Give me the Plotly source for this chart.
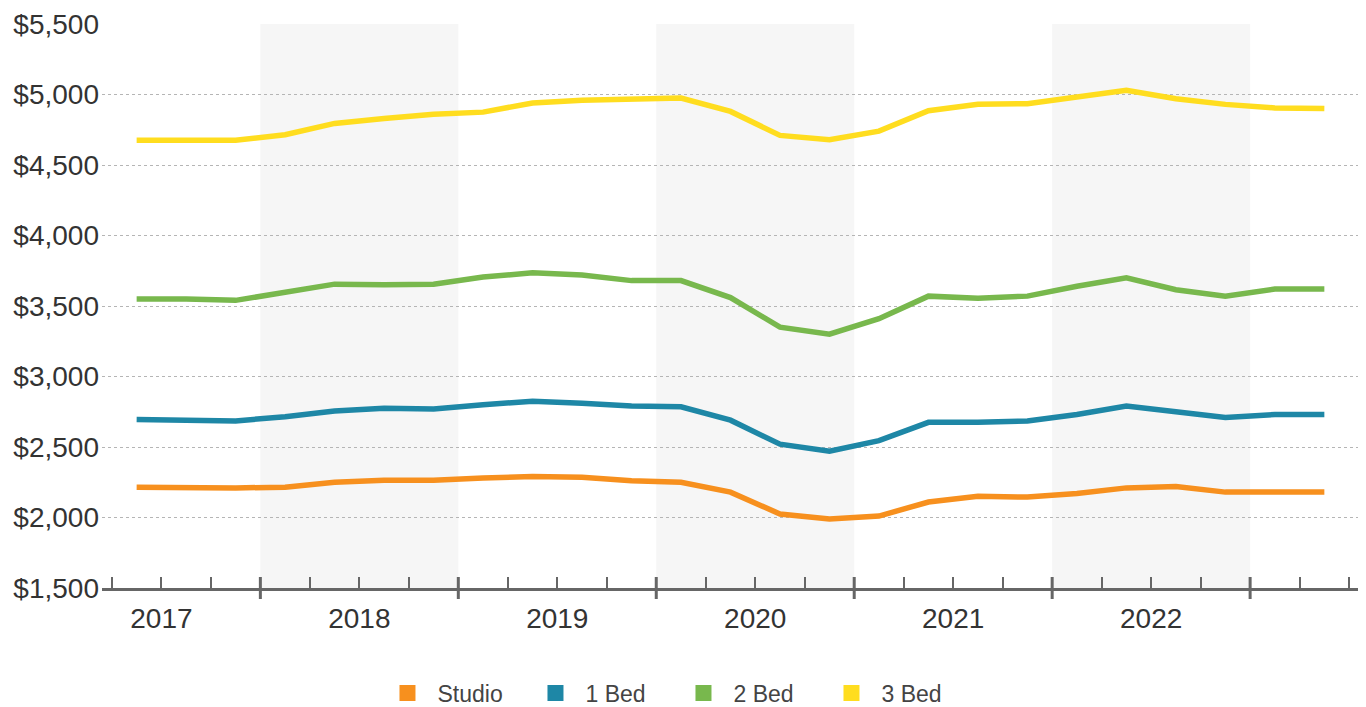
import plotly.graph_objects as go

quarters = ["2017 Q2", "2017 Q3", "2017 Q4",
            "2018 Q1", "2018 Q2", "2018 Q3", "2018 Q4",
            "2019 Q1", "2019 Q2", "2019 Q3", "2019 Q4",
            "2020 Q1", "2020 Q2", "2020 Q3", "2020 Q4",
            "2021 Q1", "2021 Q2", "2021 Q3", "2021 Q4",
            "2022 Q1", "2022 Q2", "2022 Q3", "2022 Q4",
            "2023 Q1", "2023 Q2"]

studio = [2215, 2210, 2210, 2215, 2250, 2265, 2265, 2280, 2290, 2285, 2260, 2250, 2180,
          2025, 1990, 2010, 2110, 2150, 2145, 2170, 2210, 2220, 2180, 2180, 2180]
bed1 = [2695, 2690, 2685, 2715, 2755, 2775, 2770, 2800, 2825, 2810, 2790, 2785, 2690,
        2520, 2470, 2545, 2675, 2675, 2685, 2730, 2790, 2750, 2710, 2730, 2730]
bed2 = [3550, 3550, 3540, 3600, 3655, 3650, 3655, 3705, 3735, 3720, 3680, 3680, 3560,
        3350, 3300, 3410, 3570, 3555, 3570, 3640, 3700, 3615, 3570, 3620, 3620]
bed3 = [4675, 4677, 4675, 4715, 4795, 4830, 4860, 4875, 4940, 4960, 4965, 4975, 4880,
        4710, 4680, 4740, 4885, 4930, 4935, 4980, 5030, 4970, 4930, 4905, 4900]

series_names = ["Studio", "1 Bed", "2 Bed", "3 Bed"]
series_colors = ["#F7901E", "#1E87A6", "#78B84D", "#FFDD1F"]
years = [2017, 2018, 2019, 2020, 2021, 2022]
shaded_years = [2018, 2020, 2022]
y_ticks = [1500, 2000, 2500, 3000, 3500, 4000, 4500, 5000, 5500]


def qpos(label):
    y, q = label.split(" Q")
    return int(y) + (int(q) - 0.5) / 4.0


xs = [qpos(q) for q in quarters]
x_min, x_max = 2017.2, 2023.545

fig = go.Figure()
for name, vals, col in zip(series_names, [studio, bed1, bed2, bed3], series_colors):
    fig.add_trace(go.Scatter(x=xs, y=vals, mode="lines", name=name,
                             line=dict(color=col, width=5.5), showlegend=False,
                             hoverinfo="x+y"))
for name, col in zip(series_names, series_colors):
    fig.add_trace(go.Scatter(x=[None], y=[None], mode="markers", name=name,
                             marker=dict(symbol="square", size=18, color=col)))

shapes = []
for yr in shaded_years:
    shapes.append(dict(type="rect", xref="x", yref="paper", x0=yr, x1=yr + 1,
                       y0=0, y1=1, fillcolor="#F6F6F6", line=dict(width=0),
                       layer="below"))
for yr in years[1:] + [2023]:
    shapes.append(dict(type="line", xref="x", yref="paper", ysizemode="pixel",
                       yanchor=0, x0=yr, x1=yr, y0=-11, y1=11,
                       line=dict(color="#666666", width=3)))

minor_vals = [y + k / 4.0 for y in range(2017, 2024) for k in range(4)
              if x_min < y + k / 4.0 < x_max]

# page body adds an 8px offset; margins compensate for it
plot_top, plot_bottom, fig_h = 16, 580, 730
plot_h = plot_bottom - plot_top
fig.update_layout(
    width=1366, height=fig_h,
    margin=dict(l=94, r=16, t=plot_top, b=fig_h - plot_bottom),
    plot_bgcolor="white", paper_bgcolor="white",
    font=dict(family="Liberation Sans, Arial, sans-serif", color="#333333"),
    shapes=shapes,
    showlegend=True,
    legend=dict(orientation="h", x=0.455, xanchor="center",
                y=-(685 - plot_bottom) / plot_h, yanchor="middle",
                font=dict(size=23, color="#444444"), itemwidth=50,
                entrywidth=83),
    xaxis=dict(range=[x_min, x_max], tickmode="array", automargin=False,
               tickvals=[y + 0.5 for y in years], ticktext=[str(y) for y in years],
               ticks="", showgrid=False, zeroline=False, ticklabelstandoff=3,
               showline=True, linecolor="#666666", linewidth=3,
               ticklabeloverflow="allow",
               tickfont=dict(size=28, color="#333333")),
    yaxis=dict(range=[1500, 5500], tickmode="array", tickvals=y_ticks, automargin=False,
               ticktext=["${:,}".format(v) for v in y_ticks], ticklabelstandoff=2,
               showgrid=True, gridcolor="#B5B5B5", griddash="dot", gridwidth=1,
               zeroline=False, showline=False, ticks="",
               ticklabeloverflow="allow",
               tickfont=dict(size=28, color="#333333")),
)
fig.update_xaxes(minor=dict(tickmode="array", tickvals=minor_vals, ticks="inside",
                            ticklen=11, tickwidth=1.5, tickcolor="#666666",
                            showgrid=False))

fig.write_html("out.html")
